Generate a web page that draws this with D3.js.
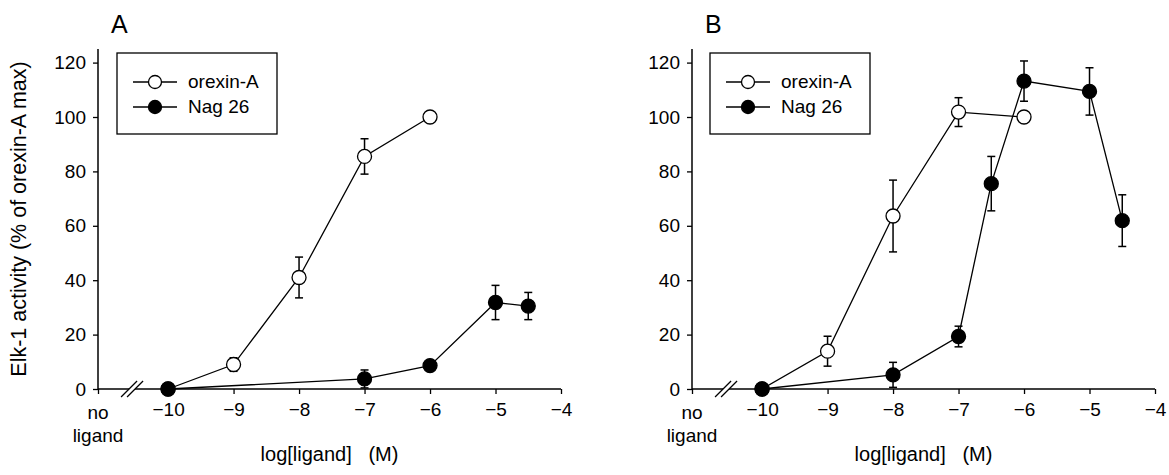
<!DOCTYPE html>
<html>
<head>
<meta charset="utf-8">
<script src="https://cdn.jsdelivr.net/npm/d3@7"></script>
<style>
    body { margin: 0; background: #fff; }
    svg { display: block; font-family: "Liberation Sans", Arial, sans-serif; }
</style>
</head>
<body>
<svg id="chart" width="1169" height="475"></svg>
<script>
// x tick values and labels (log molar), "no ligand" sits at the left edge
const xTicks = [-10, -9, -8, -7, -6, -5, -4];
const yTicks = [0, 20, 40, 60, 80, 100, 120];
const noLigandX = -11.07;
const seriesNames = ['orexin-A', 'Nag 26'];

// Panel A
const aOrexinX = [-10, -9, -8, -7, -6];
const aOrexinY = [0, 9, 41, 85.5, 100];
const aOrexinErr = [0, 2.5, 7.5, 6.5, 0];
const aNagX = [-10, -7, -6, -5, -4.5];
const aNagY = [0, 3.7, 8.6, 31.8, 30.5];
const aNagErr = [0, 3.3, 1, 6.3, 5];

// Panel B
const bOrexinX = [-10, -9, -8, -7, -6];
const bOrexinY = [0, 13.9, 63.6, 101.8, 100];
const bOrexinErr = [0, 5.5, 13.2, 5.3, 0];
const bNagX = [-10, -8, -7, -6.5, -6, -5, -4.5];
const bNagY = [0, 5.2, 19.3, 75.5, 113.2, 109.4, 61.9];
const bNagErr = [0, 4.6, 3.8, 10, 7.4, 8.7, 9.5];

const svg = d3.select('#chart');

function zip(xs, ys, es) {
    return xs.map((x, i) => ({ x: x, y: ys[i], e: es[i] }));
}

function drawPanel(opts) {
    const x = d3.scaleLinear().domain([noLigandX, -4]).range([opts.left, opts.right]);
    const y = d3.scaleLinear().domain([0, 125]).range([389, 49]);
    const g = svg.append('g');

    // panel letter
    g.append('text')
        .attr('x', opts.letterX)
        .attr('y', 33)
        .style('font-size', '25px')
        .text(opts.letter);

    // y axis
    const yAxis = d3.axisLeft(y).tickValues(yTicks).tickSize(5).tickPadding(7);
    const ya = g.append('g')
        .attr('transform', `translate(${opts.left},0)`)
        .call(yAxis);
    ya.select('.domain').remove();
    ya.attr('font-family', null);
    ya.selectAll('text').style('font-size', '19px').attr('fill', '#000');
    ya.selectAll('line').attr('stroke', '#000').attr('stroke-width', 1.3);
    g.append('line')
        .attr('x1', opts.left).attr('x2', opts.left)
        .attr('y1', y(125)).attr('y2', y(0))
        .attr('stroke', '#000').attr('stroke-width', 1.5);

    // x axis with break
    const xAxis = d3.axisBottom(x)
        .tickValues([noLigandX].concat(xTicks))
        .tickSize(5)
        .tickPadding(9)
        .tickFormat(d => d === noLigandX ? '' : d3.format('d')(d));
    const xa = g.append('g')
        .attr('transform', `translate(0,${y(0)})`)
        .call(xAxis);
    xa.select('.domain').remove();
    xa.attr('font-family', null);
    xa.selectAll('text').style('font-size', '19px').attr('fill', '#000');
    xa.selectAll('line').attr('stroke', '#000').attr('stroke-width', 1.3);

    const brk = x(-10.55);
    g.append('line')
        .attr('x1', x(noLigandX)).attr('x2', brk - 3)
        .attr('y1', y(0)).attr('y2', y(0))
        .attr('stroke', '#000').attr('stroke-width', 1.5);
    g.append('line')
        .attr('x1', brk + 3).attr('x2', x(-4))
        .attr('y1', y(0)).attr('y2', y(0))
        .attr('stroke', '#000').attr('stroke-width', 1.5);
    [-3, 3].forEach(dx => {
        g.append('line')
            .attr('x1', brk + dx - 8).attr('y1', y(0) + 8)
            .attr('x2', brk + dx + 8).attr('y2', y(0) - 8)
            .attr('stroke', '#000').attr('stroke-width', 1.3);
    });

    // "no ligand" label
    const nl = g.append('text')
        .attr('text-anchor', 'middle')
        .style('font-size', '19px');
    nl.append('tspan').attr('x', x(noLigandX)).attr('y', 419).text('no');
    nl.append('tspan').attr('x', x(noLigandX)).attr('y', 442).text('ligand');

    // x axis title
    g.append('text')
        .attr('x', (opts.left + opts.right) / 2)
        .attr('y', 461)
        .attr('text-anchor', 'middle')
        .style('font-size', '20px')
        .style('white-space', 'pre')
        .text('log[ligand]   (M)');

    if (opts.yTitle) {
        g.append('text')
            .attr('transform', `translate(26,${(y(0) + y(125)) / 2}) rotate(-90)`)
            .attr('text-anchor', 'middle')
            .style('font-size', '21.5px')
            .text(opts.yTitle);
    }

    // series
    const line = d3.line().x(d => x(d.x)).y(d => y(d.y));
    const series = [
        { data: opts.orexin, fill: '#fff' },
        { data: opts.nag, fill: '#000' }
    ];
    series.forEach(s => {
        g.append('path')
            .datum(s.data)
            .attr('d', line)
            .attr('fill', 'none')
            .attr('stroke', '#000')
            .attr('stroke-width', 1.3);
    });
    series.forEach(s => {
        s.data.filter(d => d.e > 0).forEach(d => {
            const cx = x(d.x);
            g.append('line')
                .attr('x1', cx).attr('x2', cx)
                .attr('y1', y(d.y - d.e)).attr('y2', y(d.y + d.e))
                .attr('stroke', '#000').attr('stroke-width', 1.5);
            [d.y - d.e, d.y + d.e].forEach(v => {
                g.append('line')
                    .attr('x1', cx - 4).attr('x2', cx + 4)
                    .attr('y1', y(v)).attr('y2', y(v))
                    .attr('stroke', '#000').attr('stroke-width', 1.5);
            });
        });
    });
    series.forEach(s => {
        g.selectAll(null)
            .data(s.data)
            .enter()
            .append('circle')
            .attr('cx', d => x(d.x))
            .attr('cy', d => y(d.y))
            .attr('r', 7)
            .attr('fill', s.fill)
            .attr('stroke', '#000')
            .attr('stroke-width', 1.3);
    });

    // legend
    const lg = g.append('g').attr('transform', `translate(${opts.legendX},53)`);
    lg.append('rect')
        .attr('width', 160).attr('height', 81)
        .attr('fill', '#fff')
        .attr('stroke', '#000').attr('stroke-width', 1.3);
    seriesNames.forEach((name, i) => {
        const ry = 29 + i * 25;
        lg.append('line')
            .attr('x1', 16).attr('x2', 60)
            .attr('y1', ry).attr('y2', ry)
            .attr('stroke', '#000').attr('stroke-width', 1.3);
        lg.append('circle')
            .attr('cx', 38).attr('cy', ry).attr('r', 6.5)
            .attr('fill', i === 0 ? '#fff' : '#000')
            .attr('stroke', '#000').attr('stroke-width', 1.3);
        lg.append('text')
            .attr('x', 71).attr('y', ry + 6)
            .style('font-size', '19px')
            .text(name);
    });
}

drawPanel({
    letter: 'A', letterX: 111,
    left: 98, right: 561, legendX: 117,
    yTitle: 'Elk-1 activity (% of orexin-A max)',
    orexin: zip(aOrexinX, aOrexinY, aOrexinErr),
    nag: zip(aNagX, aNagY, aNagErr)
});

drawPanel({
    letter: 'B', letterX: 705,
    left: 692, right: 1155, legendX: 710,
    yTitle: null,
    orexin: zip(bOrexinX, bOrexinY, bOrexinErr),
    nag: zip(bNagX, bNagY, bNagErr)
});
</script>
</body>
</html>
